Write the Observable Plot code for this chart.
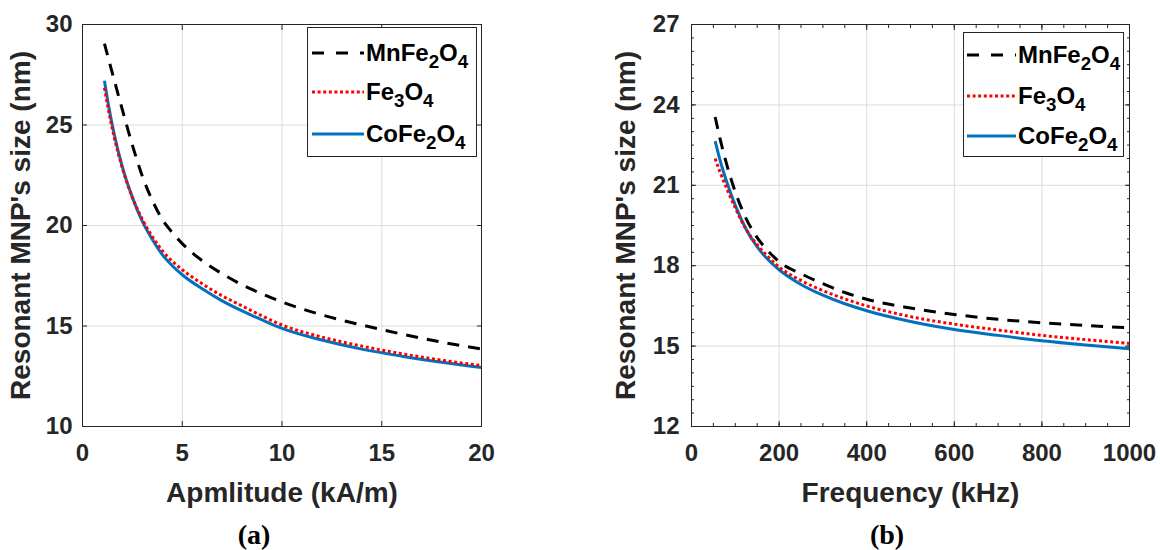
<!DOCTYPE html>
<html><head><meta charset="utf-8">
<script src="https://cdn.jsdelivr.net/npm/d3@7"></script>
<script src="https://cdn.jsdelivr.net/npm/@observablehq/plot@0.6"></script>
<style>
body{margin:0;background:#fff;}
#wrap{position:relative;width:1160px;height:550px;overflow:hidden;font-family:"Liberation Sans",Arial,sans-serif;}
.panel{position:absolute;top:0;}
.legend{position:absolute;background:#fff;border:1px solid #262626;box-sizing:border-box;}
.row{position:absolute;left:0;height:40px;display:flex;align-items:center;font-weight:bold;font-size:24px;color:#000;white-space:nowrap;}
.row svg{margin-right:2px;flex:none;}
.row sub{font-size:0.78em;vertical-align:-0.4em;line-height:0;}
.cap{position:absolute;font-family:"Liberation Serif","Times New Roman",serif;font-weight:bold;font-size:28px;transform:translate(-50%,-50%);color:#000;}
</style></head>
<body><div id="wrap"></div>
<script>
// ---------- data ----------
const seriesNames = ["MnFe2O4", "Fe3O4", "CoFe2O4"];

// Panel (a): amplitude (kA/m) vs resonant size (nm)
const ampX  = [1.1, 1.3, 1.6, 2, 2.5, 3, 3.5, 4, 4.5, 5, 6, 7, 8, 9, 10, 12, 14, 16, 18, 20];
const ampMn = [29.05, 28.3, 27.2, 25.75, 24.0, 22.45, 21.25, 20.3, 19.65, 19.1, 18.25, 17.6, 17.05, 16.6, 16.2, 15.55, 15.05, 14.6, 14.2, 13.85];
const ampFe = [26.85, 25.75, 24.35, 22.85, 21.4, 20.3, 19.45, 18.75, 18.22, 17.8, 17.1, 16.5, 16.0, 15.5, 15.05, 14.45, 14.0, 13.62, 13.3, 13.03];
const ampCo = [27.2, 26.0, 24.5, 22.9, 21.4, 20.2, 19.3, 18.55, 18.0, 17.55, 16.85, 16.25, 15.75, 15.3, 14.88, 14.3, 13.85, 13.5, 13.2, 12.94];
const ampTicks = [0, 5, 10, 15, 20];
const sizeTicksA = [10, 15, 20, 25, 30];

// Panel (b): frequency (kHz) vs resonant size (nm)
const freqX  = [54, 65, 80, 100, 125, 150, 175, 200, 250, 300, 350, 400, 500, 600, 700, 800, 900, 1000];
const freqMn = [23.55, 22.75, 21.8, 20.75, 19.75, 19.05, 18.55, 18.15, 17.7, 17.33, 17.0, 16.75, 16.42, 16.18, 16.0, 15.87, 15.77, 15.68];
const freqFe = [22.0, 21.5, 20.9, 20.15, 19.35, 18.78, 18.33, 17.95, 17.45, 17.07, 16.76, 16.5, 16.1, 15.82, 15.6, 15.4, 15.24, 15.1];
const freqCo = [22.65, 21.95, 21.15, 20.25, 19.35, 18.7, 18.22, 17.85, 17.3, 16.9, 16.58, 16.32, 15.92, 15.62, 15.4, 15.2, 15.04, 14.9];
const freqTicks = [0, 200, 400, 600, 800, 1000];
const freqMinor = d3.range(0, 1001, 50);
const sizeTicksB = [12, 15, 18, 21, 24, 27];
const sizeMinorB = d3.range(12, 27.01, 0.5);

const styles = {
  "MnFe2O4": {stroke: "#000000", strokeDasharray: "12,9", strokeWidth: 3},
  "Fe3O4":   {stroke: "#ff0000", strokeDasharray: "3,2.6", strokeWidth: 3},
  "CoFe2O4": {stroke: "#0072BD", strokeDasharray: null, strokeWidth: 3}
};
const drawOrder = ["CoFe2O4", "Fe3O4", "MnFe2O4"];

const axisColor = "#262626";
const gridColor = "#dcdcdc";

function makePanel(o) {
  const lineMarks = drawOrder.map(name => {
    const vals = o.series[name];
    const rows = o.xs.map((x, i) => ({x, y: vals[i]}));
    const s = styles[name];
    return Plot.line(rows, {x: "x", y: "y", curve: "monotone-x", stroke: s.stroke, strokeWidth: s.strokeWidth,
      strokeDasharray: s.strokeDasharray, strokeLinecap: "butt", strokeLinejoin: "round"});
  });
  const tickCommon = {stroke: axisColor, tickFormat: () => "", label: null, strokeWidth: 1};
  const marks = [
    Plot.gridX(o.xTicks, {stroke: gridColor, strokeOpacity: 1}),
    Plot.gridY(o.yTicks, {stroke: gridColor, strokeOpacity: 1}),
    ...lineMarks,
    Plot.frame({stroke: axisColor, strokeWidth: 1}),
    Plot.axisX(o.xTicks, {anchor: "bottom", tickSize: -5, ...tickCommon}),
    Plot.axisX(o.xTicks, {anchor: "top", tickSize: -5, ...tickCommon}),
    Plot.axisY(o.yTicks, {anchor: "left", tickSize: -5, ...tickCommon}),
    Plot.axisY(o.yTicks, {anchor: "right", tickSize: -5, ...tickCommon}),
  ];
  if (o.xMinor) {
    marks.push(Plot.axisX(o.xMinor, {anchor: "bottom", tickSize: -3, ...tickCommon}));
    marks.push(Plot.axisX(o.xMinor, {anchor: "top", tickSize: -3, ...tickCommon}));
  }
  if (o.yMinor) {
    marks.push(Plot.axisY(o.yMinor, {anchor: "left", tickSize: -3, ...tickCommon}));
    marks.push(Plot.axisY(o.yMinor, {anchor: "right", tickSize: -3, ...tickCommon}));
  }
  marks.push(
    Plot.axisX(o.xTicks, {anchor: "bottom", tickSize: 0, tickPadding: 17, label: null, fontSize: 24, fontWeight: "bold", fill: axisColor, tickFormat: d => String(d)}),
    Plot.axisY(o.yTicks, {anchor: "left", tickSize: 0, tickPadding: o.yPad, label: null, fontSize: 24, fontWeight: "bold", fill: axisColor, tickFormat: d => String(d)}),
    Plot.axisX([], {anchor: "bottom", tickSize: 0, label: o.xLabel, labelAnchor: "center", labelArrow: "none", labelOffset: 75, fontSize: 28, fontWeight: "bold", fill: axisColor}),
    Plot.axisY([], {anchor: "left", tickSize: 0, label: "Resonant MNP's size (nm)", labelAnchor: "center", labelArrow: "none", labelOffset: o.yLabelOffset, fontSize: 28, fontWeight: "bold", fill: axisColor})
  );
  return Plot.plot({
    width: 580, height: 550,
    marginLeft: o.marginLeft, marginRight: o.marginRight, marginTop: 24, marginBottom: 124,
    x: {domain: o.xDomain},
    y: {domain: o.yDomain},
    style: {fontFamily: '"Liberation Sans", Arial, sans-serif', background: "#fff", overflow: "visible"},
    marks
  });
}

const wrap = document.getElementById("wrap");

const pa = makePanel({
  xs: ampX, series: {"MnFe2O4": ampMn, "Fe3O4": ampFe, "CoFe2O4": ampCo},
  xDomain: [0, 20], yDomain: [10, 30], xTicks: ampTicks, yTicks: sizeTicksA,
  xLabel: "Apmlitude (kA/m)", marginLeft: 82, marginRight: 99, yPad: 10, yLabelOffset: 72
});
pa.classList.add("panel"); pa.style.left = "0px";
wrap.appendChild(pa);

const pb = makePanel({
  xs: freqX, series: {"MnFe2O4": freqMn, "Fe3O4": freqFe, "CoFe2O4": freqCo},
  xDomain: [0, 1000], yDomain: [12, 27], xTicks: freqTicks, yTicks: sizeTicksB,
  xMinor: freqMinor, yMinor: sizeMinorB,
  xLabel: "Frequency (kHz)", marginLeft: 111, marginRight: 31, yPad: 12, yLabelOffset: 76
});
pb.classList.add("panel"); pb.style.left = "580px";
wrap.appendChild(pb);

// legends
const legendLabels = {
  "MnFe2O4": "MnFe<sub>2</sub>O<sub>4</sub>",
  "Fe3O4": "Fe<sub>3</sub>O<sub>4</sub>",
  "CoFe2O4": "CoFe<sub>2</sub>O<sub>4</sub>"
};
function addLegend(left, top, w, h, rowTops, sampleLeft, sampleW) {
  const box = document.createElement("div");
  box.className = "legend";
  Object.assign(box.style, {left: left + "px", top: top + "px", width: w + "px", height: h + "px"});
  seriesNames.forEach((name, i) => {
    const s = styles[name];
    const row = document.createElement("div");
    row.className = "row";
    row.style.top = rowTops[i] + "px";
    row.style.left = sampleLeft + "px";
    const svg = d3.create("svg").attr("width", sampleW).attr("height", 10);
    svg.append("line").attr("x1", 0).attr("x2", sampleW).attr("y1", 5).attr("y2", 5)
      .attr("stroke", s.stroke).attr("stroke-width", s.strokeWidth)
      .attr("stroke-dasharray", name === "MnFe2O4" ? "12,12" : s.strokeDasharray);
    row.appendChild(svg.node());
    const t = document.createElement("span");
    t.innerHTML = legendLabels[name];
    row.appendChild(t);
    box.appendChild(row);
  });
  wrap.appendChild(box);
}
addLegend(307, 27, 170, 130, [5, 44, 86], 4, 52);
addLegend(963, 32, 161, 125, [2, 43, 83], 3, 49);

// captions
function addCap(text, x, y) {
  const c = document.createElement("div");
  c.className = "cap"; c.textContent = text;
  c.style.left = x + "px"; c.style.top = y + "px";
  wrap.appendChild(c);
}
addCap("(a)", 254, 535);
addCap("(b)", 887, 535);
</script></body></html>
